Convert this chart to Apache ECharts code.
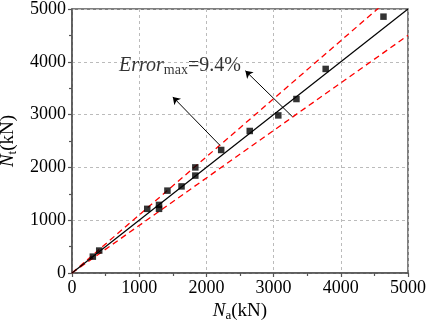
<!DOCTYPE html>
<html><head><meta charset="utf-8">
<script src="https://cdn.jsdelivr.net/npm/echarts@6/dist/echarts.min.js"></script>
<style>html,body{margin:0;padding:0;background:#fff}#c{width:429px;height:328px}</style>
</head><body><div id="c"></div>
<script>
// Test data: analytical (Na) vs test (Nt), kN
var naValues = [310, 405, 1120, 1295, 1295, 1420, 1630, 1835, 1835, 2220, 2645, 3070, 3340, 3775, 4635];
var ntValues = [310, 425, 1215, 1290, 1215, 1560, 1640, 1845, 2000, 2330, 2690, 2985, 3295, 3865, 4855];
// reference lines: y = k * x
var refX = [0, 5000];
var lineRatio = 1.0;
var upperRatio = 1.1;
var lowerRatio = 0.9;
// annotation arrows [start, end] in data units
var arrow1 = [[2200, 2420], [1500, 3335]];
var arrow2 = [[3280, 2960], [2580, 3830]];
var labelPos = [700, 3930];
var labelText = 'Error';
var labelSub = 'max';
var labelValue = '=9.4%';
var tickLabels = [0, 1000, 2000, 3000, 4000, 5000];

var ff = 'Liberation Serif';
function refLine(k){ return refX.map(function(x){ return [x, x*k]; }); }
var points = naValues.map(function(v,i){ return [v, ntValues[i]]; });

var axisCommon = {
  type:'value', min:0, max:5000, interval:1000,
  axisLine:{show:true, lineStyle:{color:'#555', width:1.5}},
  axisTick:{show:true, inside:false, length:4, lineStyle:{color:'#555', width:1.2}},
  minorTick:{show:true, splitNumber:2, length:3, lineStyle:{color:'#555', width:1.2}},
  splitLine:{show:true, lineStyle:{color:'#bbb', type:[3,3], width:1}},
  axisLabel:{color:'#000', fontFamily:ff, fontSize:18,
    formatter:function(v){ return tickLabels.indexOf(v) >= 0 ? String(v) : ''; }}
};

var chart = echarts.init(document.getElementById('c'), null, {renderer:'canvas'});
chart.setOption({
  animation:false,
  textStyle:{fontFamily:ff},
  grid:{left:72, right:21, top:9, bottom:55, containLabel:false, outerBoundsMode:'none',
        show:true, borderColor:'#555', borderWidth:1.5, backgroundColor:'transparent'},
  xAxis: Object.assign({}, axisCommon, {
    name:'{i|N}{s|a}{n|(kN)}', nameLocation:'middle', nameGap:26,
    nameTextStyle:{rich:{
      i:{fontFamily:ff, fontStyle:'italic', fontSize:19, color:'#000'},
      s:{fontFamily:ff, fontSize:13, color:'#000', padding:[9,0,0,0]},
      n:{fontFamily:ff, fontSize:19, color:'#000'}}},
    axisLabel:Object.assign({}, axisCommon.axisLabel, {margin:6})
  }),
  yAxis: Object.assign({}, axisCommon, {
    name:'{i|N}{s|t}{n|(kN)}', nameLocation:'middle', nameGap:51,
    nameTextStyle:{rich:{
      i:{fontFamily:ff, fontStyle:'italic', fontSize:19, color:'#000'},
      s:{fontFamily:ff, fontSize:13, color:'#000', padding:[9,0,0,0]},
      n:{fontFamily:ff, fontSize:19, color:'#000'}}},
    axisLabel:Object.assign({}, axisCommon.axisLabel, {margin:6})
  }),
  series:[
    {type:'line', data:refLine(upperRatio), symbol:'none', clip:true,
     lineStyle:{color:'#ff0000', width:1.3, type:[6,4]}, z:2},
    {type:'line', data:refLine(lowerRatio), symbol:'none', clip:true,
     lineStyle:{color:'#ff0000', width:1.3, type:[6,4]}, z:2},
    {type:'line', data:refLine(lineRatio), symbol:'none', clip:true,
     lineStyle:{color:'#000', width:1.2}, z:3},
    {type:'scatter', data:points, symbol:'rect', symbolSize:6.5,
     itemStyle:{color:'#000'}, z:5},
    {type:'lines', coordinateSystem:'cartesian2d', data:[{coords:arrow1},{coords:arrow2}],
     symbol:['none','arrow'], symbolSize:7,
     lineStyle:{color:'#000', width:1, opacity:1}, z:4},
    {type:'scatter', data:[labelPos], symbolSize:0, z:6,
     label:{show:true, position:'right', distance:0,
       formatter:'{i|'+labelText+'}{s|'+labelSub+'}{n|'+labelValue+'}',
       rich:{
         i:{fontFamily:ff, fontStyle:'italic', fontSize:20, color:'#000'},
         s:{fontFamily:ff, fontSize:14, color:'#000', padding:[10,0,0,0]},
         n:{fontFamily:ff, fontSize:20, color:'#000'}}}}
  ]
});
</script></body></html>
